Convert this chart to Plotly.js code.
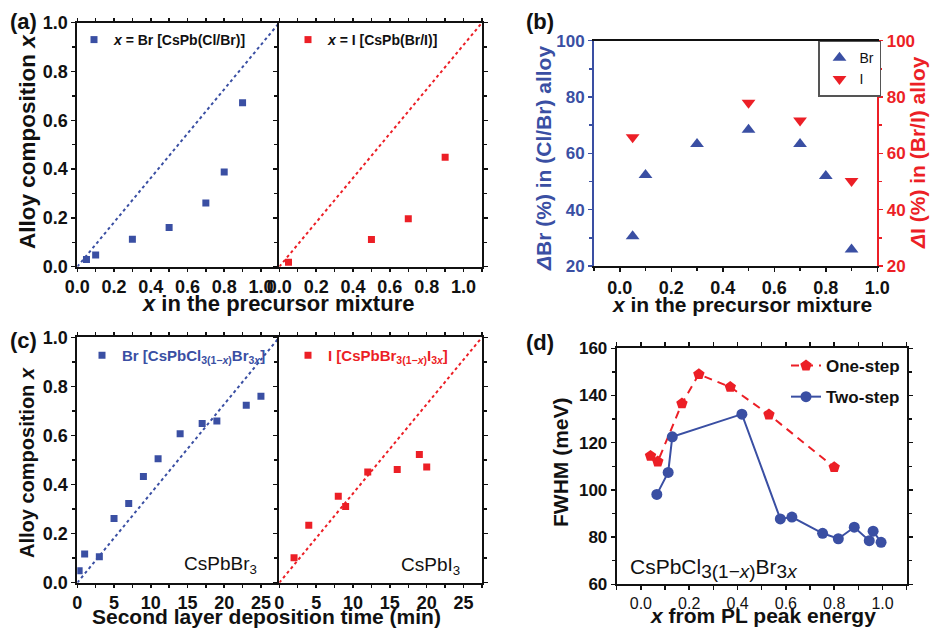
<!DOCTYPE html>
<html>
<head>
<meta charset="utf-8">
<script src="https://cdn.plot.ly/plotly-3.0.1.min.js"></script>
<style>html,body{margin:0;padding:0;background:#fff;}#chart{width:930px;height:629px;}</style>
</head>
<body>
<div id="chart"></div>
<script>
// ---- Data ----
// (a) alloy composition vs precursor fraction
const aX_Br = [0.05, 0.1, 0.3, 0.5, 0.7, 0.8, 0.9];
const aY_Br = [0.030, 0.048, 0.112, 0.161, 0.261, 0.388, 0.672];
const aX_I = [0.05, 0.5, 0.7, 0.9];
const aY_I = [0.018, 0.111, 0.197, 0.449];
const guideA_X = [0, 1.1];
const guideA_Y = [0, 1.0];
// (b) ΔBr / ΔI
const bX_Br = [0.05, 0.1, 0.3, 0.5, 0.7, 0.8, 0.9];
const bY_Br = [30.6, 52.3, 63.3, 68.4, 63.3, 52.0, 25.9];
const bX_I = [0.05, 0.5, 0.7, 0.9];
const bY_I = [65.7, 78.0, 71.7, 50.2];
// (c) alloy composition vs second-layer deposition time
const cX_Br = [0.25, 1, 3, 5, 7, 9, 11, 14, 17, 19, 23, 25];
const cY_Br = [0.049, 0.117, 0.106, 0.262, 0.323, 0.433, 0.505, 0.607, 0.649, 0.659, 0.723, 0.760];
const cX_I = [2, 4, 8, 9, 12, 16, 19, 20];
const cY_I = [0.102, 0.234, 0.352, 0.311, 0.451, 0.461, 0.522, 0.471];
const guideC_X = [0, 27.5];
const guideC_Y = [0, 1.0];
// (d) FWHM vs x
const dX_one = [0.04, 0.07, 0.17, 0.24, 0.37, 0.53, 0.80];
const dY_one = [114.4, 112.0, 136.6, 149.0, 143.6, 131.9, 109.6];
const dX_two = [0.066, 0.113, 0.130, 0.418, 0.577, 0.625, 0.752, 0.817, 0.883, 0.945, 0.961, 0.994];
const dY_two = [98.1, 107.4, 122.5, 132.1, 87.7, 88.5, 81.6, 79.3, 84.2, 78.5, 82.5, 77.8];
// tick labels
const compTicks = [0, 0.2, 0.4, 0.6, 0.8, 1.0];
const compTickText = ['0.0', '0.2', '0.4', '0.6', '0.8', '1.0'];
const timeTicks = [0, 5, 10, 15, 20, 25];
const pctTicks = [20, 40, 60, 80, 100];
const fwhmTicks = [60, 80, 100, 120, 140, 160];

// ---- Styling ----
const W = 930, H = 629;
const dx = p => p / W;
const dy = p => 1 - p / H;
const BLUE = '#3a4fa3';
const RED = '#ec1f26';
const FONT = 'Liberation Sans, Arial, Helvetica, sans-serif';
const boldTick = (size, color) => ({family: FONT, size: size, color: color || '#111', weight: 'bold'});

function baseAxis(extra) {
  return Object.assign({
    showgrid: false, zeroline: false, showline: true, linecolor: '#111', linewidth: 2,
    mirror: 'allticks', ticks: 'outside', ticklen: 4, tickwidth: 1.5, tickcolor: '#111',
    tickfont: boldTick(18), fixedrange: true
  }, extra);
}

const traces = [
  // (a) left
  {x: guideA_X, y: guideA_Y, xaxis: 'x', yaxis: 'y', mode: 'lines', line: {color: BLUE, dash: 'dot', width: 2}, showlegend: false, hoverinfo: 'skip'},
  {x: aX_Br, y: aY_Br, xaxis: 'x', yaxis: 'y', mode: 'markers', name: '<i>x</i> = Br [CsPb(Cl/Br)]',
   marker: {symbol: 'square', size: 7, color: BLUE}, legend: 'legend'},
  // (a) right
  {x: guideA_X, y: guideA_Y, xaxis: 'x2', yaxis: 'y2', mode: 'lines', line: {color: RED, dash: 'dot', width: 2}, showlegend: false, hoverinfo: 'skip'},
  {x: aX_I, y: aY_I, xaxis: 'x2', yaxis: 'y2', mode: 'markers', name: '<i>x</i> = I [CsPb(Br/I)]',
   marker: {symbol: 'square', size: 7, color: RED}, legend: 'legend2'},
  // (b)
  {x: bX_Br, y: bY_Br, xaxis: 'x3', yaxis: 'y3', mode: 'markers', name: 'Br',
   marker: {symbol: 'triangle-up', size: 12, color: BLUE}, legend: 'legend3'},
  {x: bX_I, y: bY_I, xaxis: 'x3', yaxis: 'y4', mode: 'markers', name: 'I',
   marker: {symbol: 'triangle-down', size: 12, color: RED}, legend: 'legend3'},
  // (c) left
  {x: guideC_X, y: guideC_Y, xaxis: 'x4', yaxis: 'y5', mode: 'lines', line: {color: BLUE, dash: 'dot', width: 2}, showlegend: false, hoverinfo: 'skip'},
  {x: cX_Br, y: cY_Br, xaxis: 'x4', yaxis: 'y5', mode: 'markers', name: 'Br [CsPbCl<sub>3(1\u2212<i>x</i>)</sub>Br<sub>3<i>x</i></sub>]',
   marker: {symbol: 'square', size: 7, color: BLUE}, legend: 'legend4'},
  // (c) right
  {x: guideC_X, y: guideC_Y, xaxis: 'x5', yaxis: 'y6', mode: 'lines', line: {color: RED, dash: 'dot', width: 2}, showlegend: false, hoverinfo: 'skip'},
  {x: cX_I, y: cY_I, xaxis: 'x5', yaxis: 'y6', mode: 'markers', name: 'I [CsPbBr<sub>3(1\u2212<i>x</i>)</sub>I<sub>3<i>x</i></sub>]',
   marker: {symbol: 'square', size: 7, color: RED}, legend: 'legend5'},
  // (d)
  {x: dX_one, y: dY_one, xaxis: 'x6', yaxis: 'y7', mode: 'lines+markers', name: 'One-step', legendgroup: 'g1',
   line: {color: RED, dash: '8px,6px', width: 2}, marker: {symbol: 'pentagon', size: 12, color: RED}, legend: 'legend6'},
  {x: dX_two, y: dY_two, xaxis: 'x6', yaxis: 'y7', mode: 'lines+markers', name: 'Two-step', legendgroup: 'g2',
   line: {color: BLUE, width: 2}, marker: {symbol: 'circle', size: 11, color: BLUE}, legend: 'legend6'}
];

const ann = (text, px, py, size, opts) => Object.assign({
  text: text, xref: 'paper', yref: 'paper', x: dx(px), y: dy(py), xanchor: 'center', yanchor: 'middle',
  showarrow: false, font: {family: FONT, size: size, color: '#111', weight: 'bold'}
}, opts || {});

const minorComp = {ticks: 'outside', dtick: 0.1, ticklen: 3, tickcolor: '#111'};
const minorTime = {ticks: 'outside', dtick: 2.5, ticklen: 3, tickcolor: '#111'};

const layout = {
  width: W, height: H, margin: {l: 0, r: 0, t: 0, b: 0},
  paper_bgcolor: '#fff', plot_bgcolor: '#fff', showlegend: true,
  font: {family: FONT},
  // (a)
  xaxis: baseAxis({domain: [dx(77.3), dx(279.3)], range: [0, 1.1], tickvals: compTicks, ticktext: compTickText, anchor: 'y',
    ticklen: 3, minor: minorComp}),
  yaxis: baseAxis({domain: [dy(266.7), dy(22.7)], range: [0, 1.0], tickvals: compTicks, ticktext: compTickText, anchor: 'x',
    mirror: false, minor: minorComp}),
  xaxis2: baseAxis({domain: [dx(279.3), dx(482)], range: [0, 1.1], tickvals: compTicks, ticktext: compTickText, anchor: 'y2',
    ticklen: 3, minor: minorComp}),
  yaxis2: baseAxis({domain: [dy(266.7), dy(22.7)], range: [0, 1.0], tickvals: compTicks, showticklabels: false, anchor: 'x2',
    minor: minorComp}),
  // (b)
  xaxis3: baseAxis({domain: [dx(594), dx(877.3)], range: [-0.1, 1.0], tickvals: compTicks, ticktext: compTickText, anchor: 'y3', mirror: true,
    tickfont: boldTick(18), minor: {ticks: 'outside', dtick: 0.1, ticklen: 3, tickcolor: '#111'}}),
  yaxis3: baseAxis({domain: [dy(266), dy(40.7)], range: [20, 100], tickvals: pctTicks, anchor: 'x3', mirror: false,
    linecolor: BLUE, tickcolor: BLUE, tickfont: boldTick(17, BLUE),
    minor: {ticks: 'outside', dtick: 10, ticklen: 3, tickcolor: BLUE}}),
  yaxis4: baseAxis({domain: [dy(266), dy(40.7)], range: [20, 100], tickvals: pctTicks, anchor: 'x3', overlaying: 'y3', side: 'right', mirror: false,
    linecolor: RED, tickcolor: RED, tickfont: boldTick(17, RED),
    minor: {ticks: 'outside', dtick: 10, ticklen: 3, tickcolor: RED}}),
  // (c)
  xaxis4: baseAxis({domain: [dx(77.3), dx(279.3)], range: [0, 27.5], tickvals: timeTicks, anchor: 'y5', ticklen: 3, minor: minorTime}),
  yaxis5: baseAxis({domain: [dy(582.7), dy(337.3)], range: [0, 1.0], tickvals: compTicks, ticktext: compTickText, anchor: 'x4',
    mirror: false, minor: minorComp}),
  xaxis5: baseAxis({domain: [dx(279.3), dx(482)], range: [0, 27.5], tickvals: timeTicks, anchor: 'y6', ticklen: 3, minor: minorTime}),
  yaxis6: baseAxis({domain: [dy(582.7), dy(337.3)], range: [0, 1.0], tickvals: compTicks, showticklabels: false, anchor: 'x5',
    minor: minorComp}),
  // (d)
  xaxis6: baseAxis({domain: [dx(616.7), dx(906.7)], range: [-0.1, 1.1], tickvals: compTicks, ticktext: compTickText, anchor: 'y7',
    tickfont: {family: FONT, size: 16, color: '#111'}, ticklen: 3,
    minor: {ticks: 'outside', dtick: 0.1, ticklen: 4, tickcolor: '#111'}}),
  yaxis7: baseAxis({domain: [dy(584.3), dy(348.3)], range: [60, 160], tickvals: fwhmTicks, anchor: 'x6', tickfont: boldTick(17),
    minor: {ticks: 'outside', dtick: 10, ticklen: 3, tickcolor: '#111'}}),
  // legends
  legend: {x: dx(74), y: dy(24), xanchor: 'left', yanchor: 'top', bgcolor: 'rgba(0,0,0,0)', font: {family: FONT, size: 14, color: '#111', weight: 'bold'}},
  legend2: {x: dx(288), y: dy(24), xanchor: 'left', yanchor: 'top', bgcolor: 'rgba(0,0,0,0)', font: {family: FONT, size: 14, color: '#111', weight: 'bold'}},
  legend3: {x: dx(818), y: dy(40.7), xanchor: 'left', yanchor: 'top', bgcolor: '#fff', bordercolor: '#555', borderwidth: 1.5,
    font: {family: FONT, size: 14, color: '#111'}},
  legend4: {x: dx(82), y: dy(339), xanchor: 'left', yanchor: 'top', bgcolor: 'rgba(0,0,0,0)', font: {family: FONT, size: 15, color: BLUE, weight: 'bold'}},
  legend5: {x: dx(288), y: dy(339), xanchor: 'left', yanchor: 'top', bgcolor: 'rgba(0,0,0,0)', font: {family: FONT, size: 15, color: RED, weight: 'bold'}},
  legend6: {x: dx(786), y: dy(348), xanchor: 'left', yanchor: 'top', bgcolor: 'rgba(0,0,0,0)', tracegroupgap: 6,
    font: {family: FONT, size: 17, color: '#111', weight: 'bold'}},
  annotations: [
    ann('(a)', 23, 22, 22), ann('(b)', 540, 22, 22), ann('(c)', 23, 340, 22), ann('(d)', 540, 342, 22),
    ann('Alloy composition <i>x</i>', 27, 142, 22.5, {textangle: -90}),
    ann('<i>x</i> in the precursor mixture', 278, 303, 22),
    ann('<i>x</i> in the precursor mixture', 742, 304, 21),
    ann('<i>\u0394</i>Br (%) in (Cl/Br) alloy', 543, 159, 21, {textangle: -90, font: {family: FONT, size: 21, color: BLUE, weight: 'bold'}}),
    ann('<i>\u0394</i>I (%) in (Br/I) alloy', 918, 153, 21, {textangle: -90, font: {family: FONT, size: 21, color: RED, weight: 'bold'}}),
    ann('Alloy composition <i>x</i>', 27, 463, 20, {textangle: -90}),
    ann('Second layer deposition time (min)', 266, 616, 21),
    ann('CsPbBr<sub>3</sub>', 220, 565, 19, {font: {family: FONT, size: 19, color: '#111'}}),
    ann('CsPbI<sub>3</sub>', 430, 566, 19, {font: {family: FONT, size: 19, color: '#111'}}),
    ann('FWHM (meV)', 560, 462, 21, {textangle: -90}),
    ann('<i>x</i> from PL peak energy', 763, 615, 21),
    ann('CsPbCl<sub><span style="font-size:19px">3(1\u2212<i>x</i>)</span></sub>Br<sub><span style="font-size:19px">3<i>x</i></span></sub>', 714, 568, 21,
      {font: {family: FONT, size: 21, color: '#111'}})
  ]
};

Plotly.newPlot('chart', traces, layout, {displayModeBar: false, staticPlot: true});
</script>
</body>
</html>
